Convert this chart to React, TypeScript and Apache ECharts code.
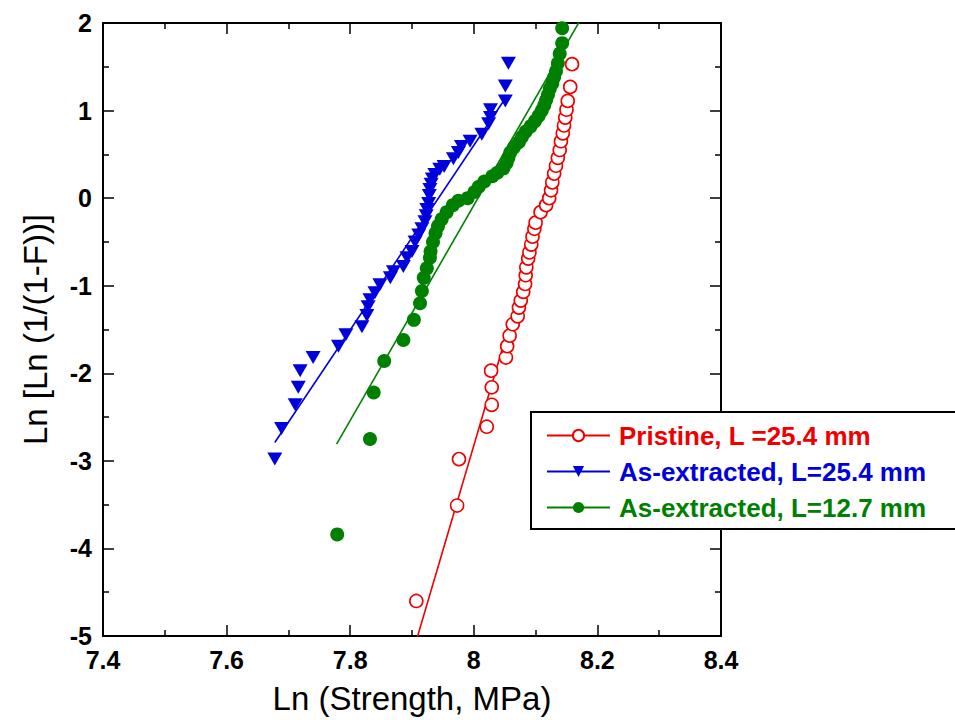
import React, { useEffect, useRef } from "react";
import * as echarts from "echarts";

// ---- data ----
const pristineX = [7.907, 7.973, 7.976, 8.021, 8.029, 8.029, 8.028, 8.052, 8.054, 8.058, 8.063, 8.071, 8.073, 8.076, 8.080, 8.083, 8.084, 8.085, 8.088, 8.090, 8.093, 8.095, 8.098, 8.100, 8.108, 8.117, 8.122, 8.125, 8.127, 8.130, 8.133, 8.136, 8.139, 8.141, 8.144, 8.146, 8.148, 8.150, 8.152, 8.156, 8.159];
const pristineY = [-4.6, -3.51, -2.98, -2.61, -2.36, -2.16, -1.97, -1.82, -1.69, -1.57, -1.44, -1.35, -1.25, -1.17, -1.07, -0.98, -0.88, -0.79, -0.69, -0.62, -0.53, -0.44, -0.35, -0.28, -0.16, -0.08, 0.0, 0.09, 0.18, 0.28, 0.37, 0.46, 0.55, 0.65, 0.74, 0.83, 0.92, 1.01, 1.11, 1.27, 1.53];

const ext254X = [7.678, 7.689, 7.711, 7.716, 7.719, 7.740, 7.781, 7.793, 7.819, 7.827, 7.829, 7.832, 7.840, 7.848, 7.865, 7.870, 7.886, 7.892, 7.900, 7.905, 7.911, 7.916, 7.921, 7.923, 7.924, 7.927, 7.928, 7.929, 7.931, 7.933, 7.937, 7.945, 7.952, 7.967, 7.975, 7.980, 7.994, 8.013, 8.024, 8.027, 8.027, 8.051, 8.051, 8.056];
const ext254Y = [-2.98, -2.63, -2.36, -2.16, -1.97, -1.82, -1.69, -1.56, -1.47, -1.34, -1.24, -1.16, -1.08, -0.99, -0.91, -0.84, -0.78, -0.68, -0.61, -0.5, -0.42, -0.35, -0.27, -0.2, -0.13, -0.06, 0.03, 0.1, 0.16, 0.22, 0.27, 0.33, 0.36, 0.45, 0.52, 0.59, 0.65, 0.73, 0.85, 0.92, 1.01, 1.11, 1.28, 1.54];

const ext127X = [7.779, 7.832, 7.838, 7.855, 7.886, 7.903, 7.913, 7.916, 7.919, 7.924, 7.929, 7.930, 7.934, 7.938, 7.942, 7.948, 7.956, 7.966, 7.975, 7.990, 8.001, 8.008, 8.017, 8.030, 8.038, 8.048, 8.053, 8.056, 8.059, 8.065, 8.073, 8.078, 8.084, 8.092, 8.099, 8.105, 8.110, 8.114, 8.117, 8.120, 8.123, 8.127, 8.130, 8.133, 8.136, 8.139, 8.143, 8.143];
const ext127Y = [-3.84, -2.75, -2.22, -1.86, -1.62, -1.39, -1.2, -1.06, -0.91, -0.8, -0.68, -0.61, -0.5, -0.4, -0.32, -0.24, -0.16, -0.08, -0.03, 0.0, 0.07, 0.13, 0.19, 0.25, 0.29, 0.34, 0.4, 0.46, 0.52, 0.58, 0.64, 0.7, 0.76, 0.82, 0.88, 0.94, 1.0, 1.06, 1.12, 1.18, 1.25, 1.31, 1.38, 1.45, 1.54, 1.65, 1.77, 1.94];

// linear fit end points
const pristineFitX = [7.905, 8.047];
const pristineFitY = [-5.1, -1.7];
const ext254FitX = [7.678, 8.05];
const ext254FitY = [-2.79, 1.13];
const ext127FitX = [7.778, 8.172];
const ext127FitY = [-2.81, 2.03];

const seriesNames = ["Pristine, L =25.4 mm", "As-extracted, L=25.4 mm", "As-extracted, L=12.7 mm"];
const seriesColors = ["#ee0000", "#0000dd", "#008000"];

const xLabel = "Ln (Strength, MPa)";
const yLabel = "Ln [Ln (1/(1-F))]";

const FONT = "Arial, 'Liberation Sans', Helvetica, sans-serif";

const zip = (xs: number[], ys: number[]) => xs.map((x, i) => [x, ys[i]]);

export default function App() {
  const ref = useRef<HTMLDivElement>(null);
  useEffect(() => {
    if (!ref.current) return;
    const chart = echarts.init(ref.current, undefined, { renderer: "svg" });
    const axisCommon = (show: boolean) => ({
      axisLine: { show: true, onZero: false, lineStyle: { color: "#000", width: 2 } },
      axisTick: { show: true, inside: true, length: 11, lineStyle: { color: "#000", width: 1.5 } },
      minorTick: { show: true, splitNumber: 2, length: 6, lineStyle: { color: "#000", width: 1.5 } },
      splitLine: { show: false },
      minorSplitLine: { show: false },
      axisLabel: {
        show,
        fontSize: 25,
        fontWeight: "bold",
        fontFamily: FONT,
        color: "#000",
        margin: 11,
        formatter: (v: number) => String(Math.round(v * 10) / 10),
      },
    });
    const markers = [
      { symbol: "circle", symbolSize: 13, symbolRotate: 0, itemStyle: { color: "#fff", borderColor: seriesColors[0], borderWidth: 1.6, opacity: 1 } },
      { symbol: "triangle", symbolSize: [15, 13], symbolRotate: 180, itemStyle: { color: seriesColors[1], opacity: 1 } },
      { symbol: "circle", symbolSize: 14, symbolRotate: 0, itemStyle: { color: seriesColors[2], opacity: 1 } },
    ];
    const fits = [zip(pristineFitX, pristineFitY), zip(ext254FitX, ext254FitY), zip(ext127FitX, ext127FitY)];
    const pts = [zip(pristineX, pristineY), zip(ext254X, ext254Y), zip(ext127X, ext127Y)];
    const series: any[] = [];
    [1, 2, 0].forEach((i) => {
      series.push({
        type: "line",
        name: seriesNames[i],
        data: fits[i],
        showSymbol: false,
        symbol: markers[i].symbol,
        symbolSize: markers[i].symbolSize,
        symbolRotate: markers[i].symbolRotate,
        itemStyle: markers[i].itemStyle,
        lineStyle: { color: seriesColors[i], width: 1.6 },
        clip: true,
        z: 2,
      });
      series.push({
        type: "scatter",
        name: seriesNames[i] + " data",
        data: pts[i],
        symbol: markers[i].symbol,
        symbolSize: markers[i].symbolSize,
        symbolRotate: markers[i].symbolRotate,
        itemStyle: markers[i].itemStyle,
        emphasis: { disabled: true },
        clip: true,
        z: 3,
      });
    });
    chart.setOption({
      animation: false,
      backgroundColor: "#fff",
      grid: { left: 103, top: 23, width: 618, height: 619, containLabel: false },
      xAxis: [
        {
          type: "value",
          min: 7.4,
          max: 8.4,
          interval: 0.2,
          position: "bottom",
          ...axisCommon(true),
          name: xLabel,
          nameLocation: "middle",
          nameGap: 46,
          nameTextStyle: { fontSize: 33, fontFamily: FONT, color: "#000" },
        },
        { type: "value", min: 7.4, max: 8.4, interval: 0.2, position: "top", ...axisCommon(false) },
      ],
      yAxis: [
        {
          type: "value",
          min: -5,
          max: 2,
          interval: 1,
          position: "left",
          ...axisCommon(true),
          name: yLabel,
          nameLocation: "middle",
          nameGap: 51,
          nameTextStyle: { fontSize: 33, fontFamily: FONT, color: "#000" },
        },
        { type: "value", min: -5, max: 2, interval: 1, position: "right", ...axisCommon(false) },
      ],
      legend: {
        orient: "vertical",
        left: 546,
        top: 422,
        padding: 0,
        itemWidth: 63,
        itemHeight: 14,
        itemGap: 9,
        z: 10,
        selectedMode: false,
        data: seriesNames.map((n, i) => ({
          name: n,
          textStyle: {
            color: seriesColors[i],
            fontSize: 26,
            fontWeight: "bold",
            fontFamily: FONT,
            lineHeight: 27,
            padding: [0, 0, 0, 4],
          },
        })),
      },
      graphic: [
        {
          type: "rect",
          z: 5,
          shape: { x: 531, y: 412, width: 460, height: 117 },
          style: { fill: "#fff", stroke: "#000", lineWidth: 2 },
        },
      ],
      series,
    });
    return () => chart.dispose();
  }, []);
  return <div ref={ref} style={{ position: "fixed", left: 0, top: 0, width: 955, height: 720, background: "#fff" }} />;
}
